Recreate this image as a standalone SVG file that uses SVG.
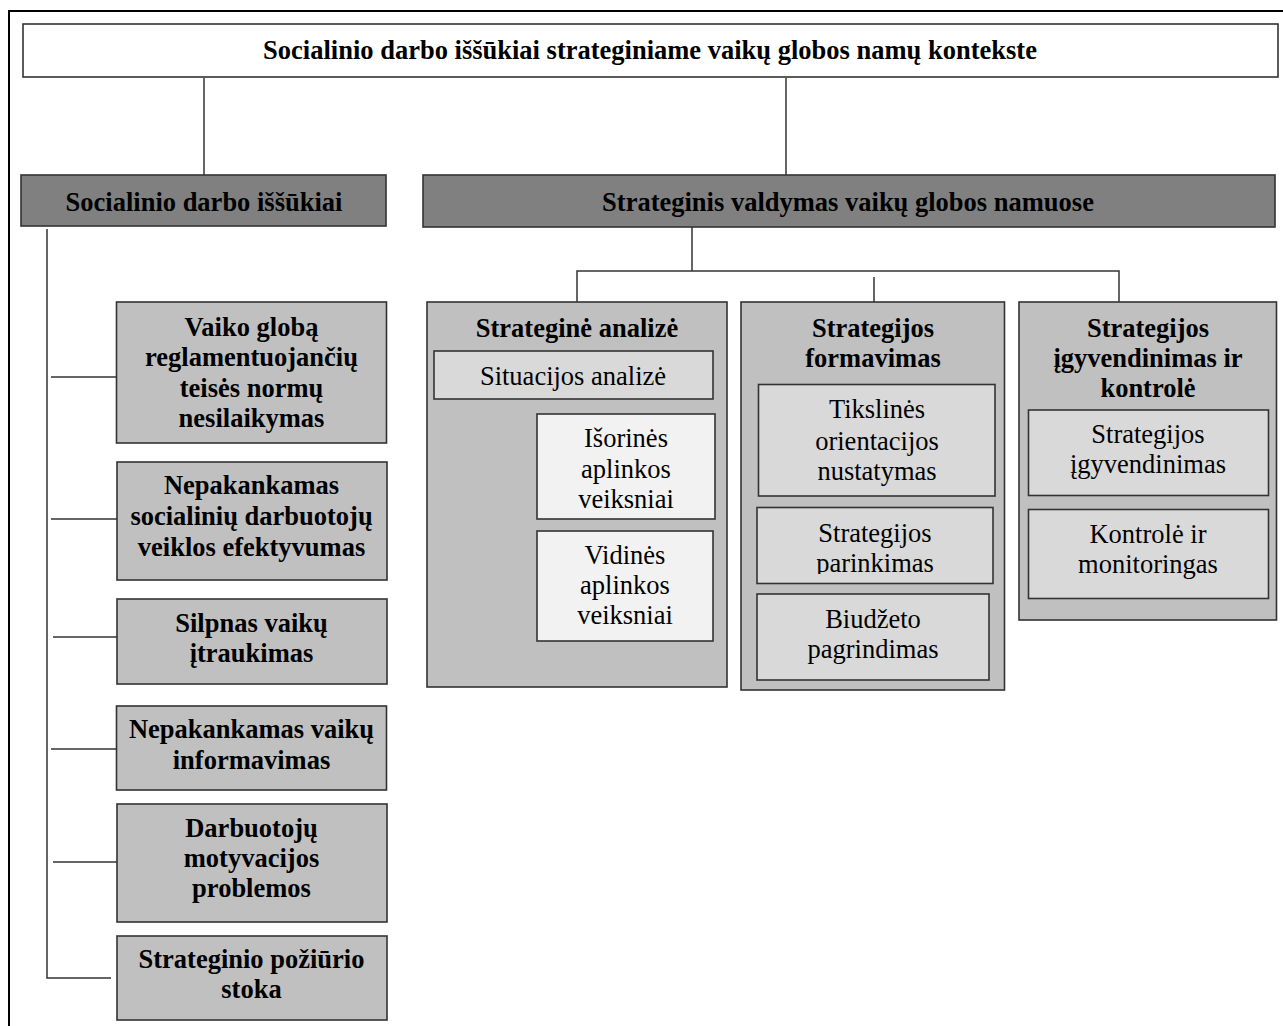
<svg xmlns="http://www.w3.org/2000/svg" width="1283" height="1026" viewBox="0 0 1283 1026">
  <style>
    text { font-family: "Liberation Serif", "Times New Roman", serif; font-size: 26.5px; fill: #000; text-anchor: middle; }
    .b { font-weight: bold; }
    .box { stroke: #333; stroke-width: 1.6; }
    .white { fill: #fff; }
    .dark { fill: #808080; }
    .mid { fill: #c0c0c0; }
    .light { fill: #d9d9d9; }
    .pale { fill: #f2f2f2; }
    .con { stroke: #333; stroke-width: 1.5; fill: none; }
  </style>
  <defs>
    <clipPath id="clipParink"><rect x="757" y="507" width="236" height="67"/></clipPath>
  </defs>

  <!-- frame -->
  <path d="M9,1026 V11 H1283" fill="none" stroke="#000" stroke-width="2"/>

  <g id="connectors">
    <line class="con" x1="204" y1="78" x2="204" y2="175"/>
    <line class="con" x1="786" y1="78" x2="786" y2="175"/>
    <line class="con" x1="692" y1="227" x2="692" y2="271"/>
    <polyline class="con" points="577,302 577,271 1119,271 1119,302"/>
    <line class="con" x1="874" y1="277" x2="874" y2="302"/>
    <!-- left tree -->
    <polyline class="con" points="47,229 47,978 111,978"/>
    <line class="con" x1="51" y1="377" x2="116" y2="377"/>
    <line class="con" x1="51" y1="519" x2="117" y2="519"/>
    <line class="con" x1="53" y1="637" x2="117" y2="637"/>
    <line class="con" x1="51" y1="749" x2="116" y2="749"/>
    <line class="con" x1="53" y1="862" x2="117" y2="862"/>
    <!-- situacijos tree -->
    <polyline class="con" points="466,399 466,565 537,565"/>
    <line class="con" x1="466" y1="467" x2="537" y2="467"/>
  </g>

  <g id="title">
    <rect class="box white" x="23" y="24" width="1255" height="53"/>
    <text class="b" x="650" y="59">Socialinio darbo iššūkiai strateginiame vaikų globos namų kontekste</text>
  </g>

  <g id="socialinio-darbo-issukiai">
    <rect class="box dark" x="21" y="175" width="365" height="51"/>
    <text class="b" x="204" y="211">Socialinio darbo iššūkiai</text>
  </g>

  <g id="strateginis-valdymas">
    <rect class="box dark" x="423" y="175" width="852" height="52"/>
    <text class="b" x="848" y="211">Strateginis valdymas vaikų globos namuose</text>
  </g>

  <g id="vaiko-globa">
    <rect class="box mid" x="116.5" y="302" width="270" height="141"/>
    <text class="b" x="251.5" y="336">Vaiko globą</text>
    <text class="b" x="251.5" y="366">reglamentuojančių</text>
    <text class="b" x="251.5" y="397">teisės normų</text>
    <text class="b" x="251.5" y="427">nesilaikymas</text>
  </g>

  <g id="nepakankamas-efektyvumas">
    <rect class="box mid" x="117" y="462" width="270" height="118"/>
    <text class="b" x="251.5" y="494">Nepakankamas</text>
    <text class="b" x="251.5" y="525">socialinių darbuotojų</text>
    <text class="b" x="251.5" y="556">veiklos efektyvumas</text>
  </g>

  <g id="silpnas-itraukimas">
    <rect class="box mid" x="117" y="599" width="270" height="85"/>
    <text class="b" x="251.5" y="632">Silpnas vaikų</text>
    <text class="b" x="251.5" y="662">įtraukimas</text>
  </g>

  <g id="nepakankamas-informavimas">
    <rect class="box mid" x="116.5" y="706" width="270" height="84"/>
    <text class="b" x="251.5" y="738">Nepakankamas vaikų</text>
    <text class="b" x="251.5" y="769">informavimas</text>
  </g>

  <g id="darbuotoju-motyvacija">
    <rect class="box mid" x="117" y="804" width="270" height="118"/>
    <text class="b" x="251.5" y="837">Darbuotojų</text>
    <text class="b" x="251.5" y="867">motyvacijos</text>
    <text class="b" x="251.5" y="897">problemos</text>
  </g>

  <g id="strateginio-poziurio-stoka">
    <rect class="box mid" x="117" y="936" width="270" height="84"/>
    <text class="b" x="251.5" y="968">Strateginio požiūrio</text>
    <text class="b" x="251.5" y="998">stoka</text>
  </g>

  <g id="strategine-analize">
    <rect class="box mid" x="427" y="302" width="300" height="385"/>
    <text class="b" x="577" y="337">Strateginė analizė</text>
  </g>

  <g id="situacijos-analize">
    <rect class="box light" x="434" y="351" width="279" height="48"/>
    <text x="573" y="385">Situacijos analizė</text>
  </g>

  <g id="isorines-aplinkos">
    <rect class="box pale" x="537" y="414" width="178" height="105"/>
    <text x="626" y="447">Išorinės</text>
    <text x="626" y="478">aplinkos</text>
    <text x="626" y="508">veiksniai</text>
  </g>

  <g id="vidines-aplinkos">
    <rect class="box pale" x="537" y="531" width="176" height="110"/>
    <text x="625" y="564">Vidinės</text>
    <text x="625" y="594">aplinkos</text>
    <text x="625" y="624">veiksniai</text>
  </g>

  <g id="strategijos-formavimas">
    <rect class="box mid" x="741" y="302" width="263.5" height="388"/>
    <text class="b" x="873" y="337">Strategijos</text>
    <text class="b" x="873" y="367">formavimas</text>
  </g>

  <g id="tikslines-orientacijos">
    <rect class="box light" x="758.5" y="384.5" width="236.5" height="111.5"/>
    <text x="877" y="418">Tikslinės</text>
    <text x="877" y="450">orientacijos</text>
    <text x="877" y="480">nustatymas</text>
  </g>

  <g id="strategijos-parinkimas">
    <rect class="box light" x="757" y="507.5" width="236" height="76"/>
    <g clip-path="url(#clipParink)">
      <text x="875" y="542">Strategijos</text>
      <text x="875" y="572">parinkimas</text>
    </g>
  </g>

  <g id="biudzeto-pagrindimas">
    <rect class="box light" x="757" y="594" width="232" height="86"/>
    <text x="873" y="628">Biudžeto</text>
    <text x="873" y="658">pagrindimas</text>
  </g>

  <g id="igyvendinimas-kontrole">
    <rect class="box mid" x="1019" y="302" width="257.5" height="318"/>
    <text class="b" x="1148" y="337">Strategijos</text>
    <text class="b" x="1148" y="367">įgyvendinimas ir</text>
    <text class="b" x="1148" y="397">kontrolė</text>
  </g>

  <g id="strategijos-igyvendinimas">
    <rect class="box light" x="1028.5" y="410" width="240" height="85.5"/>
    <text x="1148" y="443">Strategijos</text>
    <text x="1148" y="473">įgyvendinimas</text>
  </g>

  <g id="kontrole-monitoringas">
    <rect class="box light" x="1028.5" y="509.5" width="240" height="89"/>
    <text x="1148" y="543">Kontrolė ir</text>
    <text x="1148" y="573">monitoringas</text>
  </g>
</svg>
